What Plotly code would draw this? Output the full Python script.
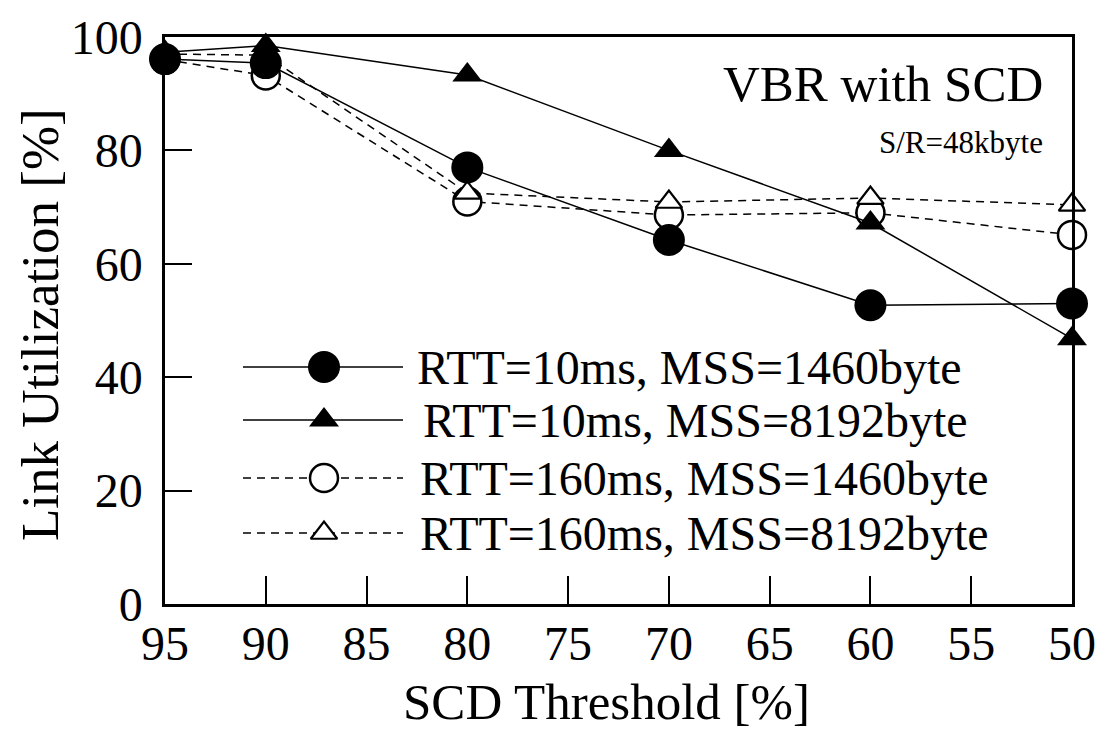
import plotly.graph_objects as go

# SCD threshold [%] (x axis runs from 95 down to 50)
scd_threshold = [95, 90, 80, 70, 60, 50]

# Link utilization [%] for each RTT / MSS combination
util_rtt10_mss1460 = [96.1, 95.4, 77.0, 64.2, 52.7, 53.0]
util_rtt10_mss8192 = [97.3, 98.5, 93.3, 80.0, 67.2, 46.8]
util_rtt160_mss1460 = [96.0, 93.2, 71.0, 68.6, 69.0, 65.1]
util_rtt160_mss8192 = [97.0, 96.8, 72.5, 70.9, 71.6, 70.4]

series_names = [
    "RTT=10ms, MSS=1460byte",
    "RTT=10ms, MSS=8192byte",
    "RTT=160ms, MSS=1460byte",
    "RTT=160ms, MSS=8192byte",
]

x_ticks = [95, 90, 85, 80, 75, 70, 65, 60, 55, 50]
y_ticks = [0, 20, 40, 60, 80, 100]

FONT = "Liberation Serif"
W, H = 1099, 731
L, R, T, B = 165, 27, 37, 127

styles = {
    series_names[0]: dict(symbol="circle", size=32, color="black", lw=0, dash="solid"),
    series_names[1]: dict(symbol="triangle-up", size=26, color="black", lw=0, dash="solid"),
    series_names[2]: dict(symbol="circle", size=28, color="white", lw=2.5, dash="8px,6px"),
    series_names[3]: dict(symbol="triangle-up", size=23, color="white", lw=2.2, dash="8px,6px"),
}

data = {
    series_names[0]: util_rtt10_mss1460,
    series_names[1]: util_rtt10_mss8192,
    series_names[2]: util_rtt160_mss1460,
    series_names[3]: util_rtt160_mss8192,
}

fig = go.Figure()

# open-marker series first so the filled markers sit on top
for name in [series_names[2], series_names[3], series_names[0], series_names[1]]:
    st = styles[name]
    fig.add_trace(go.Scatter(
        x=scd_threshold, y=data[name], mode="lines+markers", name=name,
        line=dict(color="black", width=1.5, dash=st["dash"]),
        marker=dict(symbol=st["symbol"], size=st["size"], color=st["color"],
                    line=dict(color="black", width=st["lw"])),
        cliponaxis=False, showlegend=False,
    ))

# hand-drawn legend on an overlay axis expressed in page pixels
def px_x(p):
    return (p - L) / (W - L - R)

def px_y(p):
    return (H - B - p) / (H - T - B)

legend_rows = [367, 420, 478, 533]
legend_text_x = [415, 421, 418, 418]
for name, row, tx in zip(series_names, legend_rows, legend_text_x):
    st = styles[name]
    fig.add_trace(go.Scatter(
        x=[px_x(243), px_x(403)], y=[px_y(row), px_y(row)], mode="lines",
        line=dict(color="black", width=1.5, dash=st["dash"]),
        xaxis="x2", yaxis="y2", showlegend=False, hoverinfo="skip",
    ))
    fig.add_trace(go.Scatter(
        x=[px_x(324)], y=[px_y(row)], mode="markers",
        marker=dict(symbol=st["symbol"], size=st["size"], color=st["color"],
                    line=dict(color="black", width=st["lw"])),
        xaxis="x2", yaxis="y2", showlegend=False, hoverinfo="skip",
    ))
    fig.add_annotation(
        x=px_x(tx), y=px_y(row), xref="x2", yref="y2", text=name,
        showarrow=False, xanchor="left", yanchor="middle",
        font=dict(family=FONT, size=48, color="black"),
    )

fig.add_annotation(x=px_x(1045), y=px_y(84), xref="x2", yref="y2",
                   text="VBR with SCD", showarrow=False, xanchor="right",
                   yanchor="middle", font=dict(family=FONT, size=51, color="black"))
fig.add_annotation(x=px_x(1045), y=px_y(142), xref="x2", yref="y2",
                   text="S/R=48kbyte", showarrow=False, xanchor="right",
                   yanchor="middle", font=dict(family=FONT, size=31, color="black"))

# axis titles
fig.add_annotation(x=0.487, y=px_y(702), xref="paper", yref="paper",
                   text="SCD Threshold [%]", showarrow=False, xanchor="center",
                   yanchor="middle", font=dict(family=FONT, size=51, color="black"))
fig.add_annotation(x=px_x(40), y=px_y(325), xref="paper", yref="paper",
                   text="Link Utilization [%]", showarrow=False, textangle=-90,
                   xanchor="center", yanchor="middle",
                   font=dict(family=FONT, size=53, color="black"))

fig.update_layout(
    width=W, height=H,
    margin=dict(l=L, r=R, t=T, b=B, autoexpand=False),
    paper_bgcolor="white", plot_bgcolor="white",
    font=dict(family=FONT, color="black"),
    xaxis=dict(
        range=[95, 50], tickvals=x_ticks, ticktext=[str(v) for v in x_ticks],
        ticks="inside", ticklen=28, tickwidth=1.5, tickcolor="black",
        showline=True, linecolor="black", linewidth=2.5, mirror=True,
        showgrid=False, zeroline=False, ticklabelstandoff=-4, automargin=False,
        tickfont=dict(family=FONT, size=48, color="black"),
    ),
    yaxis=dict(
        range=[0, 100], tickvals=y_ticks,
        ticks="inside", ticklen=27, tickwidth=1.5, tickcolor="black",
        showline=True, linecolor="black", linewidth=2.5, mirror=True,
        showgrid=False, zeroline=False, ticklabelstandoff=10, automargin=False,
        tickfont=dict(family=FONT, size=48, color="black"),
    ),
    xaxis2=dict(overlaying="x", range=[0, 1], visible=False),
    yaxis2=dict(overlaying="y", range=[0, 1], visible=False),
)

fig.write_html("out.html")
